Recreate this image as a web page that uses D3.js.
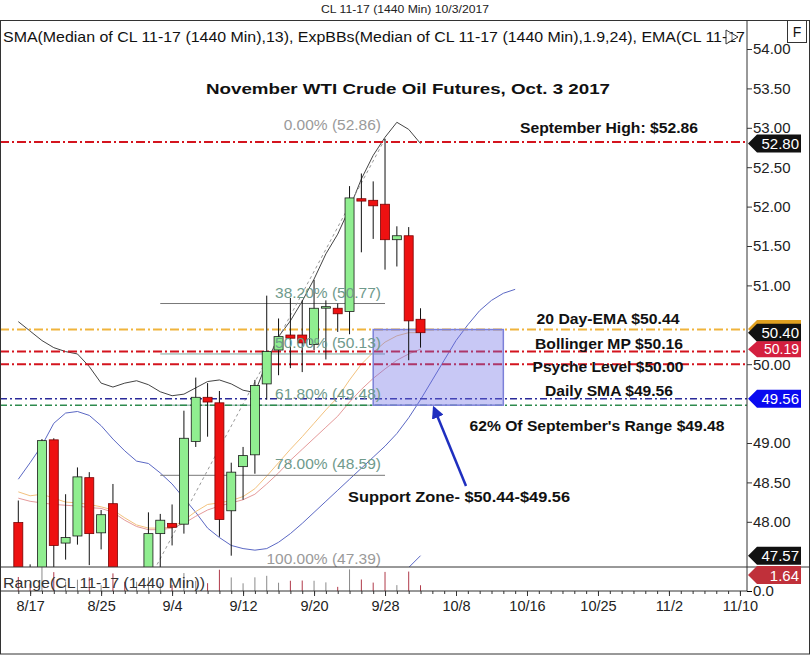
<!DOCTYPE html>
<html><head><meta charset="utf-8">
<script src="https://cdn.jsdelivr.net/npm/d3@7"></script>
<style>body{margin:0;background:#fff}svg{display:block}text{font-family:Arial,"Liberation Sans",sans-serif}</style>
</head><body><svg id="c" width="810" height="655"></svg>
<script>
// ---- data (bar index 0 = 8/16/2017 ... 34 = 10/3/2017) ----
const opens  = [47.99,47.15,47.05,49.04,47.73,47.82,48.56,47.86,48.23,47.05,46.85,46.95,47.85,47.98,47.97,49.02,49.58,49.51,48.14,48.70,48.85,49.75,50.18,50.37,50.37,50.25,50.72,50.71,50.67,52.10,52.08,52.03,51.58,51.63,50.57];
const highs  = [48.27,47.46,49.05,49.06,48.35,48.69,48.63,48.15,48.48,47.30,47.20,48.12,48.10,48.22,49.41,49.83,49.76,49.66,48.75,48.95,49.80,50.87,50.58,50.84,50.81,51.07,50.81,50.77,52.26,52.42,52.32,52.86,51.75,51.74,50.71];
const lows   = [47.05,46.80,46.95,47.42,47.52,47.71,47.45,47.65,46.95,46.50,46.40,46.90,47.39,47.70,47.85,48.95,49.08,47.81,47.57,48.28,48.61,49.55,49.86,49.95,49.90,50.18,50.06,50.41,50.38,51.42,51.59,51.20,51.24,50.05,50.21];
const closes = [47.15,47.05,49.03,47.70,47.80,48.57,47.85,48.09,47.05,46.85,46.90,47.85,48.02,47.93,49.06,49.58,49.52,48.03,48.63,48.84,49.73,50.16,50.35,50.33,50.27,50.71,50.73,50.64,52.11,52.07,52.01,51.58,51.63,50.55,50.40];
const upperBand = [50.54,50.42,50.30,50.21,50.16,50.13,49.97,49.76,49.71,49.76,49.79,49.74,49.65,49.60,49.62,49.70,49.78,49.80,49.75,49.67,49.64,50.02,50.35,50.55,50.80,51.08,51.40,51.65,51.98,52.35,52.65,52.88,53.07,52.98,52.80];
const lowerBand = [46.9,46.9,46.9,46.9,46.9,46.9,46.9,46.9,46.9,46.9,46.8,46.75,46.7,46.68,46.66,46.64,46.62,46.6,46.58,46.56,46.55,46.52,46.5,46.5,46.55,46.6,46.68,46.78,46.85,46.95,47.05,47.15,47.28,47.42,47.57];
const smaLine = [48.54,48.75,48.97,49.25,49.38,49.40,49.35,49.22,49.05,48.90,48.77,48.74,48.62,48.48,48.30,48.12,47.92,47.80,47.70,47.66,47.64,47.66,47.74,47.85,47.98,48.12,48.26,48.40,48.54,48.68,48.82,48.96,49.12,49.32,49.55,49.80,50.05,50.30,50.50,50.68,50.81,50.90,50.95];
const emaLine = [48.38,48.33,48.35,48.30,48.25,48.24,48.22,48.19,48.15,48.05,47.96,47.92,47.92,47.93,48.02,48.13,48.22,48.24,48.27,48.32,48.42,48.58,48.75,48.92,49.08,49.25,49.42,49.58,49.80,50.00,50.15,50.28,50.36,50.40,50.40];
const midLine = [48.30,48.26,48.24,48.22,48.21,48.20,48.18,48.17,48.12,48.02,47.94,47.90,47.90,47.92,47.98,48.07,48.15,48.20,48.24,48.28,48.35,48.48,48.62,48.78,48.92,49.06,49.20,49.34,49.52,49.68,49.82,49.94,50.05,50.13,50.19];
const dateLabels = ["8/17","8/25","9/4","9/12","9/20","9/28","10/8","10/16","10/25","11/2","11/10"];
const dateIndex  = [1,7,13,19,25,31,37,43,49,55,61];
const priceTicks = [54,53.5,53,52.5,52,51.5,51,50,49,48.5,48];
const levelValues = [52.82,50.44,50.16,50.00,49.56,49.48];
const fibPct = ["0.00%","38.20%","50.00%","61.80%","78.00%","100.00%"];
const fibVal = [52.86,50.77,50.13,49.48,48.59,47.39];
const fibStart = 12, fibEnd = 31;
const zoneTop = 50.44, zoneBottom = 49.48, zoneStart = 30, zoneEnd = 41;
const tagValues = [52.80,50.40,50.19,49.56,47.57];
const emaTag = 50.44;
const rangeTag = 1.64;

const svg = d3.select("#c");
const W=810,H=655, axisX=747, topY=20, priceBottom=567, rangeBottom=591;
const xs = d3.scaleLinear().domain([0,61]).range([18.3, 18.3+61*11.83]);
const ys = d3.scaleLinear().domain([48,54]).range([521.8,49]);
const rs = d3.scaleLinear().domain([0,2.0]).range([rangeBottom, priceBottom+1]);

const defs = svg.append("defs");
defs.append("clipPath").attr("id","pc").append("rect").attr("x",0).attr("y",topY).attr("width",axisX).attr("height",priceBottom-topY);
defs.append("clipPath").attr("id","rc").append("rect").attr("x",0).attr("y",priceBottom).attr("width",axisX).attr("height",rangeBottom-priceBottom);
defs.append("marker").attr("id","ah").attr("viewBox","0 0 10 10").attr("refX",8).attr("refY",5)
  .attr("markerWidth",5).attr("markerHeight",5).attr("orient","auto")
  .append("path").attr("d","M0,0L10,5L0,10z").attr("fill","#1f2fbf");

svg.append("rect").attr("width",W).attr("height",H).attr("fill","#fff");
svg.append("text").attr("x",405).attr("y",13).attr("text-anchor","middle").attr("font-size",11).attr("fill","#222")
  .attr("textLength",168).attr("lengthAdjust","spacingAndGlyphs").text("CL 11-17 (1440 Min)  10/3/2017");

const pg = svg.append("g").attr("clip-path","url(#pc)");
const line = (arr)=>d3.line().x((d,i)=>xs(i)).y(d=>ys(d))(arr);
pg.append("path").attr("d",line(smaLine)).attr("fill","none").attr("stroke","#5b68c4").attr("stroke-width",1);
pg.append("path").attr("d",line(midLine)).attr("fill","none").attr("stroke","#e59a9a").attr("stroke-width",1);
pg.append("path").attr("d",line(emaLine)).attr("fill","none").attr("stroke","#f3c27e").attr("stroke-width",1);
pg.append("path").attr("d",line(upperBand)).attr("fill","none").attr("stroke","#444").attr("stroke-width",1);
pg.append("path").attr("d",line(lowerBand)).attr("fill","none").attr("stroke","#5b68c4").attr("stroke-width",1);

fibVal.forEach((v,i)=>{
  if(i===0||i===5) return;
  pg.append("line").attr("x1",xs(fibStart)).attr("x2",xs(fibEnd)).attr("y1",ys(v)).attr("y2",ys(v))
    .attr("stroke",i===4||i===1?"#777":"#7aa59a").attr("stroke-width",1);
});
pg.append("line").attr("x1",xs(fibStart)-6).attr("y1",ys(fibVal[5])).attr("x2",xs(fibEnd)).attr("y2",ys(fibVal[0]))
  .attr("stroke","#999").attr("stroke-dasharray","3,3").attr("stroke-width",1);

const levelStyle = [
  {c:"#d4141e",w:2,d:"9,3,2,3"},{c:"#f0b43c",w:2,d:"9,3,2,3"},{c:"#d4141e",w:2,d:"9,3,2,3"},
  {c:"#d4141e",w:2,d:"9,3,2,3"},{c:"#2a2a9a",w:1.5,d:"7,3,2,3"},{c:"#2e8b4e",w:1.5,d:"7,3,2,3"}];
levelValues.forEach((v,i)=>{
  const s=levelStyle[i];
  pg.append("line").attr("x1",0).attr("x2",axisX).attr("y1",ys(v)).attr("y2",ys(v))
    .attr("stroke",s.c).attr("stroke-width",s.w).attr("stroke-dasharray",s.d);
});
pg.append("rect").attr("x",xs(zoneStart)).attr("y",ys(zoneTop)).attr("width",xs(zoneEnd)-xs(zoneStart))
  .attr("height",ys(zoneBottom)-ys(zoneTop)).attr("fill","rgba(110,110,230,0.38)").attr("stroke","#7c80d8").attr("stroke-width",1.5);

const cg = pg.append("g");
opens.forEach((o,i)=>{
  const c=closes[i], up=c>=o, x=xs(i);
  cg.append("line").attr("x1",x).attr("x2",x).attr("y1",ys(highs[i])).attr("y2",ys(lows[i])).attr("stroke","#111").attr("stroke-width",1);
  const y1=ys(Math.max(o,c)), y2=ys(Math.min(o,c));
  cg.append("rect").attr("x",x-4.5).attr("width",9).attr("y",y1).attr("height",Math.max(y2-y1,1.5))
    .attr("fill",up?"#90ee90":"#ee1111").attr("stroke",up?"#1a1a1a":"#7a0000").attr("stroke-width",0.8);
});

fibVal.forEach((v,i)=>{
  pg.append("text").attr("x",xs(fibEnd)-4).attr("y",ys(v)-(i===0?9:6)).attr("text-anchor","end").attr("font-size",15.5)
    .attr("fill",(i===0||i===5)?"#9a9a9a":"#6f9a8c").text(`${fibPct[i]} (${v.toFixed(2)})`);
});

const ann = svg.append("g").attr("font-weight","bold").attr("fill","#111").attr("font-size",15).attr("text-anchor","middle");
function at(x,y,len,txt){ return ann.append("text").attr("x",x).attr("y",y).attr("textLength",len).attr("lengthAdjust","spacingAndGlyphs").text(txt); }
at(408,94,404,"November WTI Crude Oil Futures, Oct. 3 2017").attr("font-weight",900).attr("font-size",15.5);
at(609,133,178,"September High: $52.86");
at(608,324,143,"20 Day-EMA $50.44");
at(609,349,148,"Bollinger MP $50.16");
at(608,372,151,"Psyche Level $50.00");
at(609,396,128,"Daily SMA $49.56");
at(597,431,255,"62% Of September's Range $49.48");
at(459,502,222,"Support Zone- $50.44-$49.56");
svg.append("line").attr("x1",466).attr("y1",486).attr("x2",434).attr("y2",408).attr("stroke","#1f2fbf").attr("stroke-width",2.5).attr("marker-end","url(#ah)");

const rg = svg.append("g").attr("clip-path","url(#rc)");
opens.forEach((o,i)=>{
  rg.append("line").attr("x1",xs(i)).attr("x2",xs(i)).attr("y1",rangeBottom).attr("y2",rs(highs[i]-lows[i]))
    .attr("stroke",closes[i]>=o?"#8a8a8a":"#b03a4a").attr("stroke-width",1);
});
svg.append("text").attr("x",3).attr("y",588).attr("font-size",15).attr("fill","#333").attr("textLength",202).attr("lengthAdjust","spacingAndGlyphs").text("Range(CL 11-17 (1440 Min))");

svg.append("rect").attr("x",0.5).attr("y",topY+0.5).attr("width",W-1).attr("height",H-topY-1.5).attr("fill","none").attr("stroke","#333");
svg.append("line").attr("x1",0).attr("x2",W).attr("y1",priceBottom).attr("y2",priceBottom).attr("stroke","#333");
svg.append("line").attr("x1",0).attr("x2",axisX).attr("y1",rangeBottom).attr("y2",rangeBottom).attr("stroke","#333");
svg.append("line").attr("x1",axisX).attr("x2",axisX).attr("y1",topY).attr("y2",rangeBottom).attr("stroke","#333");
svg.append("text").attr("x",3).attr("y",42).attr("font-size",15).attr("fill","#111").attr("textLength",742).attr("lengthAdjust","spacingAndGlyphs")
  .text("SMA(Median of CL 11-17 (1440 Min),13), ExpBBs(Median of CL 11-17 (1440 Min),1.9,24), EMA(CL 11-17");
svg.append("path").attr("d","M726,30L738,37L726,44Z").attr("fill","#fff").attr("fill-opacity",0.6).attr("stroke","#333").attr("stroke-width",1);
svg.append("rect").attr("x",787.5).attr("y",20.5).attr("width",19).attr("height",22).attr("fill","#fff").attr("stroke","#333");
svg.append("text").attr("x",797).attr("y",37).attr("text-anchor","middle").attr("font-size",14).attr("fill","#111").text("F");

const ra = svg.append("g").attr("transform",`translate(${axisX},0)`)
  .call(d3.axisRight(ys).tickValues(priceTicks).tickFormat(d3.format(".2f")).tickSize(5).tickPadding(1));
ra.select(".domain").remove();
ra.selectAll("text").attr("font-size",15).attr("fill","#222").attr("font-family","Arial");
ra.selectAll("line").attr("stroke","#333");
const ra2 = svg.append("g").attr("transform",`translate(${axisX},0)`)
  .call(d3.axisRight(rs).tickValues([0]).tickSize(5).tickPadding(1));
ra2.select(".domain").remove();
ra2.selectAll("text").attr("font-size",15).attr("fill","#222").attr("font-family","Arial");

const minor = d3.range(0,62);
const xa = svg.append("g").attr("transform",`translate(0,${rangeBottom})`)
  .call(d3.axisBottom(xs).tickValues(minor).tickSize(3).tickFormat(""));
xa.select(".domain").remove(); xa.selectAll("line").attr("stroke","#333");
const xb = svg.append("g").attr("transform",`translate(0,${rangeBottom})`)
  .call(d3.axisBottom(xs).tickValues(dateIndex).tickSize(5).tickPadding(5).tickFormat((d,i)=>dateLabels[i]));
xb.select(".domain").remove();
xb.selectAll("text").attr("font-size",14.5).attr("fill","#222").attr("font-family","Arial");
xb.selectAll("line").attr("stroke","#333");

function tagShape(yv,col,h){
  h=h||9;
  return svg.append("path").attr("d",`M748,${yv}L757,${yv-h}L801,${yv-h}L801,${yv+h}L757,${yv+h}Z`).attr("fill",col);
}
function tag(yv, txt, col, h, fs){
  tagShape(yv,col,h);
  svg.append("text").attr("x",799).attr("y",yv+(fs?5:5.5)).attr("text-anchor","end").attr("font-size",fs||15).attr("fill","#fff").text(txt);
}
tagShape(ys(emaTag)-0.5,"#e0a020");
const tagColor = ["#111","#111","#d41f3f","#0a0af0","#111"];
tagValues.forEach((v,i)=>{
  if(i===2) tag(ys(v), v.toFixed(2), tagColor[i], 8, 14);
  else tag(ys(v), v.toFixed(2), tagColor[i]);
});
tag(575, rangeTag.toFixed(2), "#c0303a");
</script></body></html>
